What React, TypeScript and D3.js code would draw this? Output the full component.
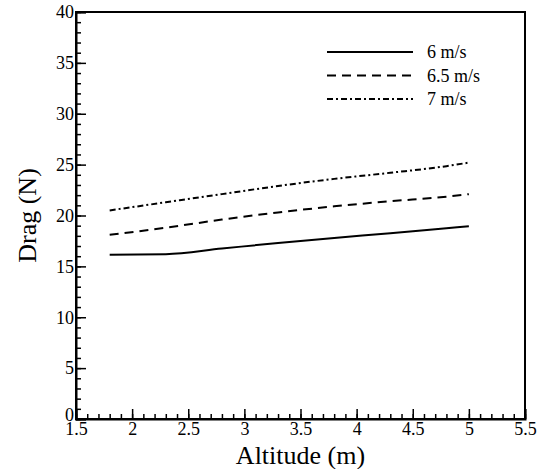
import React, { useEffect, useRef } from 'react';
import * as d3 from 'd3';

// altitude (m) at which the drag was computed
const altitude = [1.8, 2.3, 2.8, 3.3, 3.8, 4.3, 4.8, 5.0];
const drag6 = [16.15, 16.2, 16.75, 17.3, 17.8, 18.25, 18.75, 18.95];
const drag65 = [18.1, 18.8, 19.6, 20.3, 20.9, 21.4, 21.85, 22.1];
const drag7 = [20.5, 21.3, 22.1, 22.9, 23.6, 24.2, 24.85, 25.2];

const seriesNames = ['6 m/s', '6.5 m/s', '7 m/s'];
const seriesValues = [drag6, drag65, drag7];
const dashes = ['none', '9,6', '6,3,2,3'];

const xTicks = [1.5, 2, 2.5, 3, 3.5, 4, 4.5, 5, 5.5];
const yTicks = [0, 5, 10, 15, 20, 25, 30, 35, 40];

const W = 544;
const H = 469;
const margin = { top: 12, right: 19, bottom: 50, left: 76 };
const FONT = "'Liberation Serif', 'DejaVu Serif', serif";

export default function App() {
  const ref = useRef<SVGSVGElement>(null);

  useEffect(() => {
    const svg = d3.select(ref.current);
    svg.selectAll('*').remove();

    const x = d3.scaleLinear().domain([1.5, 5.5]).range([margin.left, W - margin.right]);
    const y = d3.scaleLinear().domain([0, 40]).range([H - margin.bottom, margin.top]);

    // frame
    svg.append('rect')
      .attr('x', x(1.5)).attr('y', y(40))
      .attr('width', x(5.5) - x(1.5)).attr('height', y(0) - y(40))
      .attr('fill', 'none').attr('stroke', '#000').attr('stroke-width', 2);

    // inward ticks, minor every 0.1 / 1
    const xAxis = d3.axisBottom(x).tickValues(xTicks).tickSize(-10).tickFormat(d3.format('')).tickPadding(3);
    const gx = svg.append('g').attr('transform', `translate(0,${y(0)})`).call(xAxis);
    svg.append('g').attr('transform', `translate(0,${y(0)})`)
      .call(d3.axisBottom(x).tickValues(d3.range(1.5, 5.5001, 0.1)).tickSize(-5).tickFormat(() => ''))
      .call(g => g.select('.domain').remove());

    const yAxis = d3.axisLeft(y).tickValues(yTicks).tickSize(-10).tickPadding(2);
    const gy = svg.append('g').attr('transform', `translate(${x(1.5)},0)`).call(yAxis);
    svg.append('g').attr('transform', `translate(${x(1.5)},0)`)
      .call(d3.axisLeft(y).tickValues(d3.range(0, 41, 1)).tickSize(-5).tickFormat(() => ''))
      .call(g => g.select('.domain').remove());

    svg.selectAll('.tick line').attr('stroke', '#000').attr('stroke-width', 1.5);
    svg.selectAll('.domain').attr('stroke', '#000').attr('stroke-width', 2);
    [gx, gy].forEach(g => g.attr('font-family', null).attr('font-size', null)
      .selectAll('text')
      .style('font-family', FONT).style('font-size', '18px').attr('fill', '#000'));
    // the 0 sits a little above the corner
    gy.selectAll('.tick text').filter(d => d === 0).attr('dy', '0.1em');

    // axis titles
    svg.append('text')
      .attr('x', (x(1.5) + x(5.5)) / 2).attr('y', H - 5)
      .attr('text-anchor', 'middle')
      .style('font-family', FONT).style('font-size', '26px')
      .text('Altitude (m)');
    svg.append('text')
      .attr('transform', `translate(36,${y(20)}) rotate(-90)`)
      .attr('text-anchor', 'middle')
      .style('font-family', FONT).style('font-size', '26px')
      .text('Drag (N)');

    // curves
    const line = d3.line<number>()
      .x((_, i) => x(altitude[i]))
      .y(d => y(d))
      .curve(d3.curveMonotoneX);
    seriesValues.forEach((vals, i) => {
      svg.append('path')
        .attr('d', line(vals))
        .attr('fill', 'none').attr('stroke', '#000').attr('stroke-width', 2)
        .attr('stroke-dasharray', dashes[i]);
    });

    // legend
    const lg = svg.append('g');
    seriesNames.forEach((name, i) => {
      const ly = 52 + i * 23.5;
      lg.append('line')
        .attr('x1', 327).attr('x2', 413).attr('y1', ly).attr('y2', ly)
        .attr('stroke', '#000').attr('stroke-width', 2)
        .attr('stroke-dasharray', dashes[i]);
      lg.append('text')
        .attr('x', 427).attr('y', ly).attr('dy', '0.35em')
        .style('font-family', FONT).style('font-size', '18px')
        .text(name);
    });
  }, []);

  return (
    <div style={{ position: 'absolute', left: 0, top: 0, background: '#fff' }}>
      <svg ref={ref} width={W} height={H} style={{ display: 'block' }} />
    </div>
  );
}
